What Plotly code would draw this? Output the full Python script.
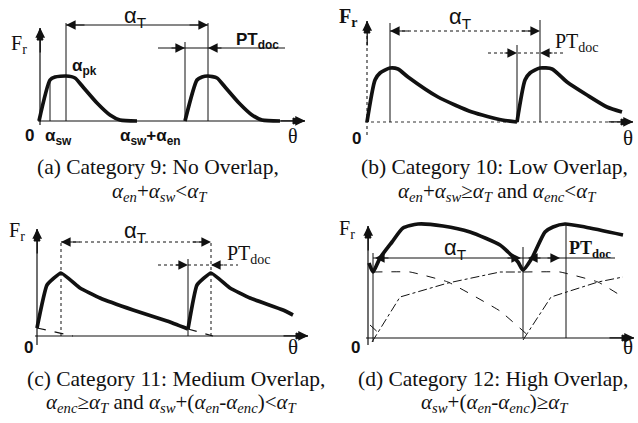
import plotly.graph_objects as go

W, H = 638, 423

# ---------------- data (panel-local units: theta offset, Fr height) ----------------
# Panel (a)
A_C1_X = [-1, 10, 15, 26, 35, 43, 57, 70, 80, 97]
A_C1_Y = [0, 41, 44, 45, 43, 34, 18, 6, 1, 0]
A_C2_X = [145, 157, 162, 168, 177, 185, 199, 212, 222, 240]
A_C2_Y = [0, 41, 44, 45, 43, 34, 18, 6, 1, 0]
# Panel (b)
B_C1_X = [0, 8, 13, 23, 31, 41, 71, 105, 135, 150]
B_C1_Y = [0, 42, 49, 54, 53, 45, 25, 10, 2, 0]
B_C2_X = [150, 158, 163, 173, 185, 200, 220, 240, 255]
B_C2_Y = [0, 42, 49, 54, 53, 40, 27, 15, 10]
# Panel (c)
C_C1_X = [0, 10, 24, 43, 63, 96, 130, 151]
C_C1_Y = [8, 51, 63, 48, 38, 26, 15, 7]
C_C2_X = [151, 160, 174, 193, 213, 246, 256]
C_C2_Y = [7, 51, 63, 48, 38, 26, 21]
C_D1_X = [0, 36]
C_D1_Y = [8, 0]
C_D2_X = [151, 176]
C_D2_Y = [7, 0]
# Panel (d)
D_C_X = [1, 5, 12, 24, 35, 50, 75, 102, 132, 140, 150, 155, 164, 177, 185, 197, 217, 255]
D_C_Y = [75, 66, 80, 96, 110, 114, 112, 106, 93, 86, 76, 68, 80, 106, 111, 114, 111, 103]
D_DEC1_X = [5, 42, 80, 132, 163]
D_DEC1_Y = [66, 66, 56, 27, 0]
D_DEC2_X = [155, 192, 230, 255]
D_DEC2_Y = [66, 66, 56, 41]
D_DEC0_X = [2, 14]
D_DEC0_Y = [13, 2]
D_RISE1_X = [4, 32, 80, 132, 155]
D_RISE1_Y = [-4, 41, 55, 66, 66]
D_RISE2_X = [155, 183, 230, 255]
D_RISE2_Y = [-2, 41, 56, 61]

CAPTIONS = [
    "(a) Category 9: No Overlap,",
    "(b) Category 10: Low Overlap,",
    "(c) Category 11: Medium Overlap,",
    "(d) Category 12: High Overlap,",
]
CONDITIONS = [
    "<i>α<sub>en</sub></i>+<i>α<sub>sw</sub></i>&lt;<i>α<sub>T</sub></i>",
    "<i>α<sub>en</sub></i>+<i>α<sub>sw</sub></i>≥<i>α<sub>T</sub></i> and <i>α<sub>enc</sub></i>&lt;<i>α<sub>T</sub></i>",
    "<i>α<sub>enc</sub></i>≥<i>α<sub>T</sub></i> and <i>α<sub>sw</sub></i>+(<i>α<sub>en</sub></i>-<i>α<sub>enc</sub></i>)&lt;<i>α<sub>T</sub></i>",
    "<i>α<sub>sw</sub></i>+(<i>α<sub>en</sub></i>-<i>α<sub>enc</sub></i>)≥<i>α<sub>T</sub></i>",
]

# ---------------- layout helpers ----------------
PANELS = {
    1: dict(box=(0, 318, 0, 210), origin=(40, 121)),
    2: dict(box=(318, 638, 0, 210), origin=(367, 122)),
    3: dict(box=(0, 318, 210, 423), origin=(37, 336)),
    4: dict(box=(318, 638, 210, 423), origin=(368, 338)),
}

fig = go.Figure()
layout = dict(width=W, height=H, margin=dict(l=0, r=0, t=0, b=0),
              paper_bgcolor="white", plot_bgcolor="white", showlegend=False)
for k, p in PANELS.items():
    x0, x1, y0, y1 = p["box"]
    ox, oy = p["origin"]
    sx = "" if k == 1 else str(k)
    layout["xaxis" + sx] = dict(domain=[x0 / W, x1 / W], range=[x0 - ox, x1 - ox],
                                visible=False, fixedrange=True, anchor="y" + sx)
    layout["yaxis" + sx] = dict(domain=[1 - y1 / H, 1 - y0 / H], range=[oy - y1, oy - y0],
                                visible=False, fixedrange=True, anchor="x" + sx)
fig.update_layout(**layout)

annots = []
INK = "#111"

def refs(k):
    return ("x" if k == 1 else f"x{k}"), ("y" if k == 1 else f"y{k}")

def line(k, xs, ys, width=1.0, color=INK, dash="solid", smoothing=0.6):
    xr, yr = refs(k)
    fig.add_trace(go.Scatter(x=xs, y=ys, mode="lines", xaxis=xr, yaxis=yr,
                             line=dict(color=color, width=width, dash=dash,
                                       shape="spline", smoothing=smoothing),
                             hoverinfo="skip"))

def seg(k, xs, ys, width=1.0, color=INK, dash="solid"):
    xr, yr = refs(k)
    fig.add_trace(go.Scatter(x=xs, y=ys, mode="lines", xaxis=xr, yaxis=yr,
                             line=dict(color=color, width=width, dash=dash),
                             hoverinfo="skip"))

def tri(k, xs, ys):
    xr, yr = refs(k)
    fig.add_trace(go.Scatter(x=xs, y=ys, mode="lines", xaxis=xr, yaxis=yr,
                             fill="toself", fillcolor=INK,
                             line=dict(color=INK, width=1),
                             hoverinfo="skip"))

def arrow(k, x, y, ax, ay, size=1.6, width=1.2):
    xr, yr = refs(k)
    annots.append(dict(x=x, y=y, ax=ax, ay=ay, xref=xr, yref=yr, axref=xr, ayref=yr,
                       text="", showarrow=True, arrowhead=2, arrowsize=size,
                       arrowwidth=width, arrowcolor=INK, standoff=0))

def label(k, x, y, text, size=18, family="Liberation Sans", color=INK):
    xr, yr = refs(k)
    annots.append(dict(x=x, y=y, xref=xr, yref=yr, text=text, showarrow=False,
                       font=dict(size=size, family=family, color=color),
                       xanchor="center", yanchor="middle"))

def axes(k, ytop, ybot, xend, dash="solid", color=INK):
    seg(k, [0, 0], [ybot, ytop - 6], width=1.2, dash=dash, color=color)
    seg(k, [-2, xend - 6], [0, 0], width=1.2, dash=dash, color=color)
    # arrowheads (pixel-sized, since 1 unit = 1 px)
    tri(k, [-3, 0, 3, -3], [ytop - 11, ytop + 1, ytop - 11, ytop - 11])
    tri(k, [xend - 11, xend + 1, xend - 11, xend - 11], [-3, 0, 3, -3])
    arrow(k, 0.2, ytop + 1, 0.2, ytop - 25, size=1.5, width=1.3)
    arrow(k, xend + 1, 0.2, xend - 25, 0.2, size=1.5, width=1.3)

SERIF = "Liberation Serif"
SANS = "Liberation Sans"
THICK = 3.7

# ---------------- panel (a) ----------------
axes(1, 92, -4, 264)
line(1, A_C1_X, A_C1_Y, width=THICK)
line(1, A_C2_X, A_C2_Y, width=THICK)
seg(1, [10, 10], [0, 41])
seg(1, [26, 26], [0, 98])
seg(1, [168, 168], [0, 98])
seg(1, [145, 145], [0, 79])
seg(1, [26, 168], [96, 96])
arrow(1, 26, 96, 46, 96)
arrow(1, 168, 96, 148, 96)
seg(1, [118, 245], [73, 73])
arrow(1, 145, 73, 130, 73)
arrow(1, 168, 73, 183, 73)
label(1, 95, 104, "α<sub>T</sub>", size=22, family=SANS)
label(1, 217, 80, "<b>PT<sub>doc</sub></b>", size=17, family=SANS)
label(1, -21, 77, "F<sub>r</sub>", size=20, family=SERIF)
label(1, 44, 54, "<b>α<sub>pk</sub></b>", size=17, family=SANS)
label(1, -11, -14, "<b>0</b>", size=17, family=SANS)
label(1, 253, -15, "θ", size=20, family=SERIF)
label(1, 18, -16, "<b>α<sub>sw</sub></b>", size=17, family=SANS)
label(1, 110, -16, "<b>α<sub>sw</sub>+α<sub>en</sub></b>", size=17, family=SANS)

# ---------------- panel (b) ----------------
axes(2, 100, -13, 265, dash="dot", color="#333")
line(2, B_C1_X, B_C1_Y, width=THICK)
line(2, B_C2_X, B_C2_Y, width=THICK)
seg(2, [23, 23], [0, 99])
seg(2, [173, 173], [0, 102])
seg(2, [150, 150], [0, 77])
seg(2, [23, 173], [91, 91], dash="dot")
arrow(2, 23, 91, 43, 91)
arrow(2, 173, 91, 153, 91)
seg(2, [121, 199], [69, 69], dash="dot")
arrow(2, 150, 69, 136, 69)
arrow(2, 173, 69, 187, 69)
label(2, 93, 104, "α<sub>T</sub>", size=22, family=SANS)
label(2, 210, 80, "PT<sub>doc</sub>", size=20, family=SERIF)
label(2, -19, 105, "<b>F<sub>r</sub></b>", size=20, family=SERIF)
label(2, -11, -16, "<b>0</b>", size=17, family=SANS)
label(2, 261, -16, "θ", size=21, family=SERIF)

# ---------------- panel (c) ----------------
axes(3, 106, -9, 270)
line(3, C_C1_X, C_C1_Y, width=THICK, smoothing=0.35)
line(3, C_C2_X, C_C2_Y, width=THICK, smoothing=0.35)
seg(3, C_D1_X, C_D1_Y, dash="dash", width=1.2)
seg(3, C_D2_X, C_D2_Y, dash="dash", width=1.2)
seg(3, [24, 24], [0, 96], dash="dot")
seg(3, [174, 174], [0, 96], dash="dot")
seg(3, [151, 151], [0, 77])
seg(3, [24, 174], [94, 94], dash="dot")
arrow(3, 24, 94, 44, 94)
arrow(3, 174, 94, 154, 94)
seg(3, [121, 201], [71, 71], dash="dot")
arrow(3, 151, 71, 137, 71)
arrow(3, 174, 71, 188, 71)
label(3, 98, 104, "α<sub>T</sub>", size=22, family=SANS)
label(3, 212, 82, "PT<sub>doc</sub>", size=20, family=SERIF)
label(3, -20, 105, "F<sub>r</sub>", size=20, family=SERIF)
label(3, -9, -11, "<b>0</b>", size=17, family=SANS)
label(3, 256, -11, "θ", size=21, family=SERIF)

# ---------------- panel (d) ----------------
axes(4, 111, -7, 265)
line(4, D_C_X, D_C_Y, width=THICK)
seg(4, D_DEC0_X, D_DEC0_Y, dash="dash", width=1.0)
line(4, D_DEC1_X, D_DEC1_Y, dash="dash", width=1.0, smoothing=0.3)
line(4, D_DEC2_X, D_DEC2_Y, dash="dash", width=1.0, smoothing=0.3)
seg(4, D_RISE1_X, D_RISE1_Y, dash="dashdot", width=1.0)
seg(4, D_RISE2_X, D_RISE2_Y, dash="dashdot", width=1.0)
seg(4, [5, 5], [-4, 85])
seg(4, [155, 155], [0, 91])
seg(4, [198, 198], [0, 114])
seg(4, [5, 247], [80, 80])
arrow(4, 7, 80, 22, 80)
arrow(4, 153, 80, 138, 80)
arrow(4, 160, 80, 174, 80)
arrow(4, 192, 80, 178, 80)
label(4, 87, 89, "α<sub>T</sub>", size=22, family=SANS)
label(4, 222, 89, "<b>PT<sub>doc</sub></b>", size=18, family=SERIF)
label(4, -21, 109, "F<sub>r</sub>", size=20, family=SERIF)
label(4, -13, -9, "<b>0</b>", size=17, family=SANS)
label(4, 260, -9, "θ", size=21, family=SERIF)

# ---------------- captions ----------------
CAP_POS = [(158, 167, 160, 192), (494, 167, 497, 192), (176, 379, 172, 403), (493, 379, 495, 403)]
for (x1, y1, x2, y2), t1, t2 in zip(CAP_POS, CAPTIONS, CONDITIONS):
    annots.append(dict(x=x1 / W, y=1 - y1 / H, xref="paper", yref="paper", text=t1,
                       showarrow=False, xanchor="center", yanchor="middle",
                       font=dict(size=21.5, family=SERIF, color=INK)))
    annots.append(dict(x=x2 / W, y=1 - y2 / H, xref="paper", yref="paper", text=t2,
                       showarrow=False, xanchor="center", yanchor="middle",
                       font=dict(size=21, family=SERIF, color=INK)))

fig.update_layout(annotations=annots)
fig.write_html("out.html")
